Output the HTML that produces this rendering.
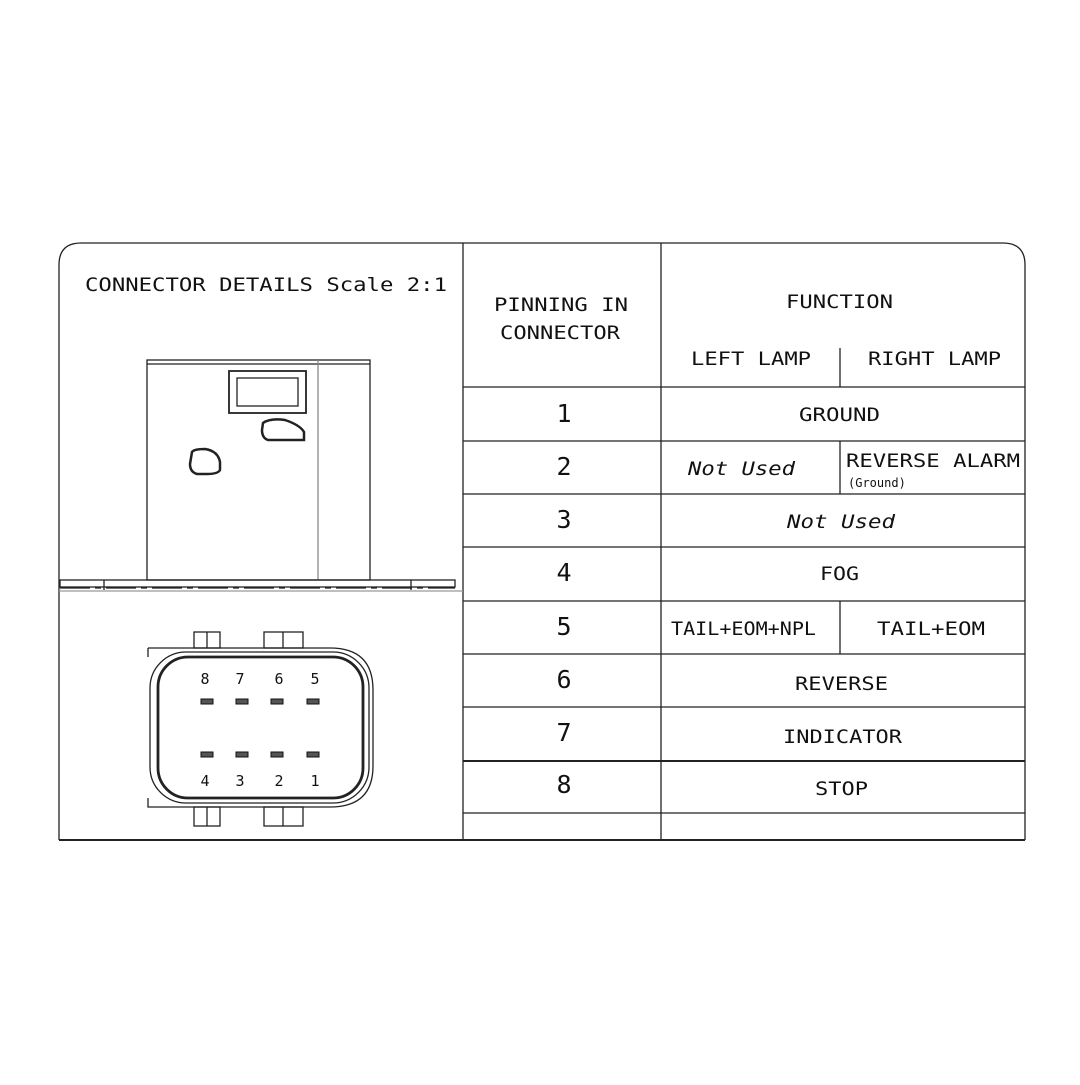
<!DOCTYPE html>
<html><head><style>
body{margin:0;background:#fff}
svg text{font-family:"DejaVu Sans Mono","Liberation Mono",monospace;fill:#111}
</style></head><body>
<svg width="1080" height="1080" viewBox="0 0 1080 1080" xmlns="http://www.w3.org/2000/svg">
<rect width="1080" height="1080" fill="#fff"/>
<g stroke="#222" fill="none" stroke-width="1.3">
<path d="M59 840 V265 Q59 243 81 243 H1003 Q1025 243 1025 265 V840"/>
<line x1="59" y1="840" x2="1025" y2="840" stroke-width="2"/>
<line x1="463" y1="243" x2="463" y2="840"/>
<line x1="661" y1="243" x2="661" y2="840"/>
<line x1="463" y1="387" x2="1025" y2="387"/>
<line x1="463" y1="441" x2="1025" y2="441"/>
<line x1="463" y1="494" x2="1025" y2="494"/>
<line x1="463" y1="547" x2="1025" y2="547"/>
<line x1="463" y1="601" x2="1025" y2="601"/>
<line x1="463" y1="654" x2="1025" y2="654"/>
<line x1="463" y1="707" x2="1025" y2="707"/>
<line x1="463" y1="761" x2="1025" y2="761" stroke-width="2"/>
<line x1="463" y1="813" x2="1025" y2="813"/>
<line x1="840" y1="348" x2="840" y2="387"/>
<line x1="840" y1="441" x2="840" y2="494"/>
<line x1="840" y1="601" x2="840" y2="654"/>
<rect x="147" y="360" width="223" height="220"/>
<line x1="147" y1="364" x2="370" y2="364"/>
<line x1="318" y1="360" x2="318" y2="580" stroke="#888"/>
<rect x="229" y="371" width="77" height="42" stroke-width="1.8"/>
<rect x="237" y="378" width="61" height="28"/>
<path d="M263 423 Q270 418 285 420 Q300 425 304 432 V440 H268 Q262 438 262 430 Z" stroke-width="2.5"/>
<path d="M192 452 Q194 449 205 449 Q218 451 220 462 V470 Q218 474 207 474 H197 Q190 472 190 464 Z" stroke-width="2.5"/>
<rect x="60" y="580" width="395" height="7"/>
<line x1="104" y1="580" x2="104" y2="590"/><line x1="411" y1="580" x2="411" y2="590"/>
<line x1="60" y1="588" x2="455" y2="588" stroke-dasharray="30 5 6 5"/>
<line x1="59" y1="591" x2="463" y2="591" stroke="#999"/>
<rect x="194" y="632" width="26" height="16"/><line x1="207" y1="632" x2="207" y2="648"/>
<rect x="264" y="632" width="39" height="16"/><line x1="283" y1="632" x2="283" y2="648"/>
<rect x="194" y="807" width="26" height="19"/><line x1="207" y1="807" x2="207" y2="826"/>
<rect x="264" y="807" width="39" height="19"/><line x1="283" y1="807" x2="283" y2="826"/>
<path d="M148 648 H330 Q373 648 373 690 V766 Q373 807 330 807 H148 V798"/>
<path d="M148 648 V657"/>
<rect x="150" y="652" width="219" height="151" rx="36"/>
<rect x="158" y="657" width="205" height="141" rx="30" stroke-width="2.8"/>
</g>
<g fill="#555" stroke="#111" stroke-width="1">
<rect x="201" y="699" width="12" height="5"/><rect x="236" y="699" width="12" height="5"/><rect x="271" y="699" width="12" height="5"/><rect x="307" y="699" width="12" height="5"/>
<rect x="201" y="752" width="12" height="5"/><rect x="236" y="752" width="12" height="5"/><rect x="271" y="752" width="12" height="5"/><rect x="307" y="752" width="12" height="5"/>
</g>
<g font-size="15" text-anchor="middle" style="font-family:'Liberation Sans',sans-serif">
<text x="205" y="684">8</text><text x="240" y="684">7</text><text x="279" y="684">6</text><text x="315" y="684">5</text>
<text x="205" y="786">4</text><text x="240" y="786">3</text><text x="279" y="786">2</text><text x="315" y="786">1</text>
</g>
<g font-size="19" lengthAdjust="spacingAndGlyphs">
<text x="85" y="291" textLength="362" lengthAdjust="spacingAndGlyphs">CONNECTOR DETAILS Scale 2:1</text>
<text x="494" y="311" textLength="134" lengthAdjust="spacingAndGlyphs">PINNING IN</text>
<text x="500" y="339" textLength="120" lengthAdjust="spacingAndGlyphs">CONNECTOR</text>
<text x="786" y="308" textLength="107" lengthAdjust="spacingAndGlyphs">FUNCTION</text>
<text x="691" y="365" textLength="120" lengthAdjust="spacingAndGlyphs">LEFT LAMP</text>
<text x="868" y="365" textLength="133" lengthAdjust="spacingAndGlyphs">RIGHT LAMP</text>
<text x="799" y="421" textLength="81" lengthAdjust="spacingAndGlyphs">GROUND</text>
<text x="688" y="475" textLength="107" lengthAdjust="spacingAndGlyphs" font-style="italic">Not Used</text>
<text x="787" y="528" textLength="108" lengthAdjust="spacingAndGlyphs" font-style="italic">Not Used</text>
<text x="820" y="580" textLength="39" lengthAdjust="spacingAndGlyphs">FOG</text>
<text x="671" y="635" textLength="145" lengthAdjust="spacingAndGlyphs">TAIL+EOM+NPL</text>
<text x="877" y="635" textLength="108" lengthAdjust="spacingAndGlyphs">TAIL+EOM</text>
<text x="795" y="690" textLength="93" lengthAdjust="spacingAndGlyphs">REVERSE</text>
<text x="783" y="743" textLength="119" lengthAdjust="spacingAndGlyphs">INDICATOR</text>
<text x="815" y="795" textLength="53" lengthAdjust="spacingAndGlyphs">STOP</text>
<text x="846" y="467" textLength="174" lengthAdjust="spacingAndGlyphs">REVERSE ALARM</text>
</g>
<text x="848" y="487" font-size="12">(Ground)</text>
<g font-size="25" text-anchor="middle" style="font-family:'Liberation Sans',sans-serif">
<text x="564" y="422">1</text><text x="564" y="475">2</text><text x="564" y="528">3</text><text x="564" y="581">4</text>
<text x="564" y="635">5</text><text x="564" y="688">6</text><text x="564" y="741">7</text><text x="564" y="793">8</text>
</g>
</svg>
</body></html>
